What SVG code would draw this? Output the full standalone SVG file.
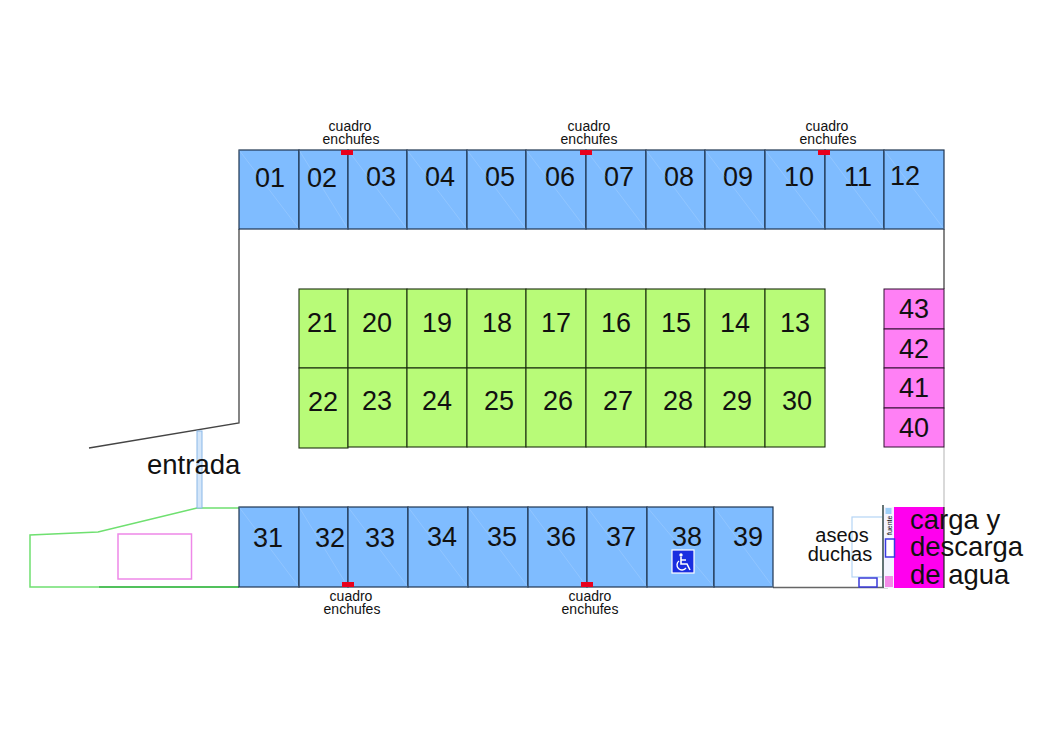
<svg xmlns="http://www.w3.org/2000/svg" width="1055" height="745" viewBox="0 0 1055 745">
<style>
text{font-family:"Liberation Sans",Arial,sans-serif;fill:#111}
.n{font-size:27px;text-anchor:middle}
.s{font-size:14px;text-anchor:middle}
.l{font-size:27.500px}
.a{font-size:20px;text-anchor:middle}
.b rect{fill:#7fbcff;stroke:#1f3550;stroke-width:1.2}
.g rect{fill:#b8fb78;stroke:#1c3010;stroke-width:1.1}
.p rect{fill:#ff80f5;stroke:#301030;stroke-width:1}
.w{fill:none;stroke:#444;stroke-width:1.3}
.gl{fill:none;stroke:#6fe070;stroke-width:1.5}
.r{fill:#e8001c}
.d{fill:none;stroke:#fff;stroke-opacity:.14;stroke-width:1}
</style>
<rect width="1055" height="745" fill="#fff"/>
<g id="connectors">
<path class="w" d="M239 229V423L89 448"/>
<path d="M944 229V289" class="w"/>
<path d="M944 447V507" fill="none" stroke="#ccc" stroke-width="1.5"/>
<path d="M773 587.5H888" fill="none" stroke="#666" stroke-width="1.5"/>
<path class="gl" d="M239 508H197L98 532L30 535V587H239"/>
<path d="M99 587H239" fill="none" stroke="#3bb54a" stroke-width="1.5"/>
<rect x="118" y="534" width="73.500" height="45" fill="none" stroke="#ee88e8" stroke-width="1.5"/>
<rect x="197" y="431" width="5" height="77" fill="#d4e6f9" stroke="#8ab8e8" stroke-width="1"/>
</g>
<g id="top-row" class="b">
<g id="s01"><rect x="239" y="150" width="60" height="79"/><text class="n" x="270" y="187">01</text></g>
<g id="s02"><rect x="299" y="150" width="49" height="79"/><text class="n" x="322" y="187">02</text></g>
<g id="s03"><rect x="348" y="150" width="59" height="79"/><text class="n" x="381" y="186">03</text></g>
<g id="s04"><rect x="407" y="150" width="60" height="79"/><text class="n" x="440" y="186">04</text></g>
<g id="s05"><rect x="467" y="150" width="59" height="79"/><text class="n" x="500" y="186">05</text></g>
<g id="s06"><rect x="526" y="150" width="60" height="79"/><text class="n" x="560" y="186">06</text></g>
<g id="s07"><rect x="586" y="150" width="60" height="79"/><text class="n" x="619" y="186">07</text></g>
<g id="s08"><rect x="646" y="150" width="59" height="79"/><text class="n" x="679" y="186">08</text></g>
<g id="s09"><rect x="705" y="150" width="60" height="79"/><text class="n" x="738" y="186">09</text></g>
<g id="s10"><rect x="765" y="150" width="60" height="79"/><text class="n" x="799" y="186">10</text></g>
<g id="s11"><rect x="825" y="150" width="59" height="79"/><text class="n" x="858" y="186">11</text></g>
<g id="s12"><rect x="884" y="150" width="60" height="79"/><text class="n" x="905" y="185">12</text></g>
</g>
<g id="green-rows" class="g">
<g id="s21"><rect x="299" y="289" width="49" height="79"/><text class="n" x="322" y="332">21</text></g>
<g id="s20"><rect x="348" y="289" width="59" height="79"/><text class="n" x="377" y="332">20</text></g>
<g id="s19"><rect x="407" y="289" width="60" height="79"/><text class="n" x="437" y="332">19</text></g>
<g id="s18"><rect x="467" y="289" width="59" height="79"/><text class="n" x="497" y="332">18</text></g>
<g id="s17"><rect x="526" y="289" width="60" height="79"/><text class="n" x="556" y="332">17</text></g>
<g id="s16"><rect x="586" y="289" width="60" height="79"/><text class="n" x="616" y="332">16</text></g>
<g id="s15"><rect x="646" y="289" width="59" height="79"/><text class="n" x="676" y="332">15</text></g>
<g id="s14"><rect x="705" y="289" width="60" height="79"/><text class="n" x="735" y="332">14</text></g>
<g id="s13"><rect x="765" y="289" width="60" height="79"/><text class="n" x="795" y="332">13</text></g>
<g id="s22"><rect x="299" y="368" width="49" height="80"/><text class="n" x="323" y="411">22</text></g>
<g id="s23"><rect x="348" y="368" width="59" height="79"/><text class="n" x="377" y="410">23</text></g>
<g id="s24"><rect x="407" y="368" width="60" height="79"/><text class="n" x="437" y="410">24</text></g>
<g id="s25"><rect x="467" y="368" width="59" height="79"/><text class="n" x="499" y="410">25</text></g>
<g id="s26"><rect x="526" y="368" width="60" height="79"/><text class="n" x="558" y="410">26</text></g>
<g id="s27"><rect x="586" y="368" width="60" height="79"/><text class="n" x="618" y="410">27</text></g>
<g id="s28"><rect x="646" y="368" width="59" height="79"/><text class="n" x="678" y="410">28</text></g>
<g id="s29"><rect x="705" y="368" width="60" height="79"/><text class="n" x="737" y="410">29</text></g>
<g id="s30"><rect x="765" y="368" width="60" height="79"/><text class="n" x="797" y="410">30</text></g>
</g>
<g id="pink-column" class="p">
<g id="s43"><rect x="884" y="289" width="60" height="40"/><text class="n" x="914" y="318">43</text></g>
<g id="s42"><rect x="884" y="329" width="60" height="39"/><text class="n" x="914" y="358">42</text></g>
<g id="s41"><rect x="884" y="368" width="60" height="40"/><text class="n" x="914" y="397">41</text></g>
<g id="s40"><rect x="884" y="408" width="60" height="39"/><text class="n" x="914" y="437">40</text></g>
</g>
<g id="bottom-row" class="b">
<g id="s31"><rect x="239" y="507" width="60" height="80"/><text class="n" x="268" y="547">31</text></g>
<g id="s32"><rect x="299" y="507" width="49" height="80"/><text class="n" x="330" y="547">32</text></g>
<g id="s33"><rect x="348" y="507" width="60" height="80"/><text class="n" x="380" y="547">33</text></g>
<g id="s34"><rect x="408" y="507" width="60" height="80"/><text class="n" x="442" y="546">34</text></g>
<g id="s35"><rect x="468" y="507" width="60" height="80"/><text class="n" x="502" y="546">35</text></g>
<g id="s36"><rect x="528" y="507" width="59" height="80"/><text class="n" x="561" y="546">36</text></g>
<g id="s37"><rect x="587" y="507" width="60" height="80"/><text class="n" x="621" y="546">37</text></g>
<g id="s38"><rect x="647" y="507" width="67" height="80"/><text class="n" x="687" y="546">38</text></g>
<g id="s39"><rect x="714" y="507" width="59" height="80"/><text class="n" x="748" y="546">39</text></g>
</g>
<path id="sheen" class="d" d="M239 150L299 229M299 150L348 229M348 150L407 229M407 150L467 229M467 150L526 229M526 150L586 229M586 150L646 229M646 150L705 229M705 150L765 229M765 150L825 229M825 150L884 229M884 150L944 229M239 507L299 587M299 507L348 587M348 507L408 587M408 507L468 587M468 507L528 587M528 507L587 587M587 507L647 587M647 507L714 587M714 507L773 587"/>
<g id="accessible-sign">
<rect x="672" y="550" width="22" height="23" fill="#1a2ee0" stroke="#fff" stroke-width="1.2"/>
<circle cx="681" cy="555" r="1.700" fill="#fff"/>
<path d="M681 557V564H687L690 570M681 560H686" fill="none" stroke="#fff" stroke-width="1.600"/>
<path d="M679 561A5 5 0 1 0 686 568" fill="none" stroke="#fff" stroke-width="1.400"/>
</g>
<g id="water-point">
<rect x="894" y="507" width="50" height="81" fill="#ff00ee"/>
<path d="M944 507V588" stroke="#222" stroke-width="1.200" fill="none"/>
</g>
<g id="toilets">
<rect x="852" y="517" width="31" height="60" fill="#fff" stroke="#b5d5f5" stroke-width="1.200"/>
<path d="M883 505V588" stroke="#566" stroke-width="1.800" fill="none"/>
<rect x="884" y="507" width="10" height="81" fill="#f4f4ff"/>
<rect x="885.500" y="508" width="6" height="6" fill="#9fd0f8"/>
<rect x="885.500" y="539" width="9" height="18" fill="#fff" stroke="#3a3ae0" stroke-width="1.500"/>
<rect x="885" y="576" width="8" height="11" fill="#f48ae8"/>
<rect x="859" y="578" width="18" height="9" fill="#fff" stroke="#3a3ad8" stroke-width="1.500"/>
<text x="892" y="535" transform="rotate(-90 892 535)" style="font-size:7px">fuente</text>
</g>
<g id="panels">
<rect class="r" x="341" y="150" width="12" height="5"/><rect class="r" x="580" y="150" width="12" height="5"/><rect class="r" x="818" y="150" width="12" height="5"/>
<rect class="r" x="342" y="582" width="12" height="5"/><rect class="r" x="581" y="582" width="12" height="5"/>
</g>
<g id="labels">
<text class="s"><tspan x="350" y="131">cuadro</tspan><tspan x="351" y="144">enchufes</tspan></text>
<text class="s"><tspan x="589" y="131">cuadro</tspan><tspan x="589" y="144">enchufes</tspan></text>
<text class="s"><tspan x="827" y="131">cuadro</tspan><tspan x="828" y="144">enchufes</tspan></text>
<text class="s"><tspan x="351" y="600.500">cuadro</tspan><tspan x="352" y="613.500">enchufes</tspan></text>
<text class="s"><tspan x="590" y="600.500">cuadro</tspan><tspan x="590" y="613.500">enchufes</tspan></text>
<text class="l" x="147" y="474">entrada</text>
<text class="a"><tspan x="842" y="542">aseos</tspan><tspan x="840" y="561">duchas</tspan></text>
<text class="l"><tspan x="910" y="529">carga y</tspan><tspan x="910" y="556">descarga</tspan><tspan x="910" y="584">de agua</tspan></text>
</g>
</svg>
